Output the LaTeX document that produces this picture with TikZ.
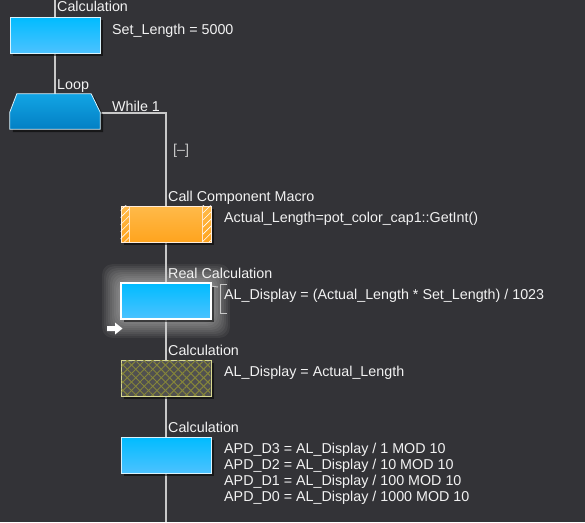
\documentclass[tikz,border=0pt]{standalone}
\usepackage{fontspec}
\setmainfont{Liberation Sans}
\usepackage{tikz}
\usetikzlibrary{calc,shadows,patterns.meta}
\definecolor{bgdark}{HTML}{333337}
\definecolor{wire}{HTML}{C8C8C8}
\definecolor{txt}{HTML}{F2F2F2}
\definecolor{cyantop}{HTML}{00BCFF}
\definecolor{cyanbot}{HTML}{4CC2FF}
\definecolor{orgtop}{HTML}{FFBA4A}
\definecolor{orgbot}{HTML}{FFA41E}
\definecolor{looptop}{HTML}{12A4E4}
\definecolor{loopbot}{HTML}{0380C4}
\definecolor{olive}{HTML}{85853A}
\definecolor{olivefill}{HTML}{505050}
\definecolor{oliveedge}{HTML}{D8D890}
\pgfdeclarelayer{bg}
\pgfdeclarelayer{glow}
\pgfdeclarelayer{wires}
\pgfsetlayers{bg,glow,wires,main}
\tikzset{
  lbl/.style={anchor=base west,inner sep=0pt,text=txt,font=\fontsize{14.3}{17}\selectfont},
  stmt/.style={lbl},
  shade/.style={drop shadow={shadow xshift=3pt,shadow yshift=-3pt,fill=black,opacity=0.55}},
  flowbox/.style={minimum width=90pt,minimum height=36pt,inner sep=0pt,draw=#1,line width=0.8pt,shade},
  calcbox/.style={flowbox=cyan!15,top color=cyantop,bottom color=cyanbot},
  macrobox/.style={flowbox=orange!15,top color=orgtop,bottom color=orgbot},
  wireline/.style={wire,line width=1.1pt}
}

\begin{document}
\begin{tikzpicture}[x=1pt,y=-1pt]
\begin{pgfonlayer}{bg}
\fill[bgdark] (0,0) rectangle (585,522);
\end{pgfonlayer}
\useasboundingbox (0,0) rectangle (585,522);
% blocks
\node[calcbox] (setlen) at (55,35) {};
\node[minimum width=90pt,minimum height=35pt,inner sep=0pt] (loop) at (55,111.5) {};
\draw[draw=cyan!15,line width=0.8pt,top color=looptop,bottom color=loopbot,shade] (loop.south west) -- ($(loop.south west)+(0,-17)$) -- ($(loop.north west)+(7,0)$) -- ($(loop.north east)+(-9,0)$) -- ($(loop.south east)+(0,-17)$) -- (loop.south east) -- cycle;
\node[macrobox] (macro) at (166,224) {};
\foreach \a/\b in {north west/9,north east/-9}{\fill[pattern={Lines[angle=45,distance=5pt,line width=0.6pt]},pattern color=white!85] (macro.\a) rectangle ($(macro.\a)+(\b,36)$);
  \draw[orange!20,line width=0.8pt] ($(macro.\a)+(\b,0)$) -- ++(0,36);}
\node[calcbox,draw=white,line width=1.6pt] (real) at (166,301) {};
\begin{pgfonlayer}{glow}
\foreach \g in {18,16,...,2}{\fill[white,opacity=0.055,rounded corners=10pt] ($(real.north west)+(-\g,-\g)$) rectangle ($(real.south east)+(\g,\g)$);}
\end{pgfonlayer}
\node[flowbox=oliveedge,fill=olivefill] (copy) at (166,378) {};
\foreach \ang in {45,-45}{\fill[pattern={Lines[angle=\ang,distance=6pt,line width=1pt]},pattern color=olive] ($(copy.north west)+(1,1)$) rectangle ($(copy.south east)+(-1,-1)$);}
\draw[black!60,dashed,line width=0.8pt] ($(copy.north west)+(2,2)$) -- ($(copy.north east)+(-2,2)$);
\node[calcbox] (digits) at (166,455) {};
% wires
\coordinate (top) at (55,0);
\coordinate (end) at (166,522);
\begin{pgfonlayer}{wires}
\draw[wireline] (top) -- (setlen.north);
\draw[wireline] (setlen.south) -- (loop.north);
\draw[wireline] ($(loop.east)+(0,1.5)$) -| (macro.north);
\draw[wireline] (macro.south) -- (real.north);
\draw[wireline] (real.south) -- (copy.north);
\draw[wireline] (copy.south) -- (digits.north);
\draw[wireline] (digits.south) -- (end);
\end{pgfonlayer}
% labels
\node[lbl] (lsetlen) at (57,12) {Calculation};
\node[lbl] (lloop) at (57,89) {Loop};
\node[lbl] (lwhile) at (112,111) {While 1};
\node[lbl,text=wire] (fold) at (173,154) {[--]};
\node[lbl] (lmacro) at (168,201) {Call Component Macro};
\node[lbl] (lreal) at (168,278) {Real Calculation};
\node[lbl] (lcopy) at (168,355) {Calculation};
\node[lbl] (ldigits) at (168,432) {Calculation};
\node[stmt] (ssetlen) at (112,34) {Set\_Length = 5000};
\node[stmt] (smacro) at (224,222) {Actual\_Length=pot\_color\_cap1::GetInt()};
\node[stmt] (sreal) at (224,299) {AL\_Display = (Actual\_Length * Set\_Length) / 1023};
\node[stmt] (scopy) at (224,376) {AL\_Display = Actual\_Length};
\foreach \i/\d/\dv in {0/3/1,1/2/10,2/1/100,3/0/1000}{\node[stmt] (sd\d) at (224,453+16*\i) {APD\_D\d\ = AL\_Display / \dv\ MOD 10};}
% bracket and marker
\coordinate (brk) at (220.5,284);
\draw[wire,line width=0.9pt] ($(real.north east)+(0,4)$) -- ($(brk)+(-2.5,3)$);
\draw[wire,line width=1pt] ($(brk)+(6.5,0)$) -- (brk) -- ++(0,29) -- ++(6.5,0);
\fill[white] (107,326) -- (115,326) -- (115,322.5) -- (122.5,328.5) -- (115,334.5) -- (115,331) -- (107,331) -- cycle;
\end{tikzpicture}
\end{document}
